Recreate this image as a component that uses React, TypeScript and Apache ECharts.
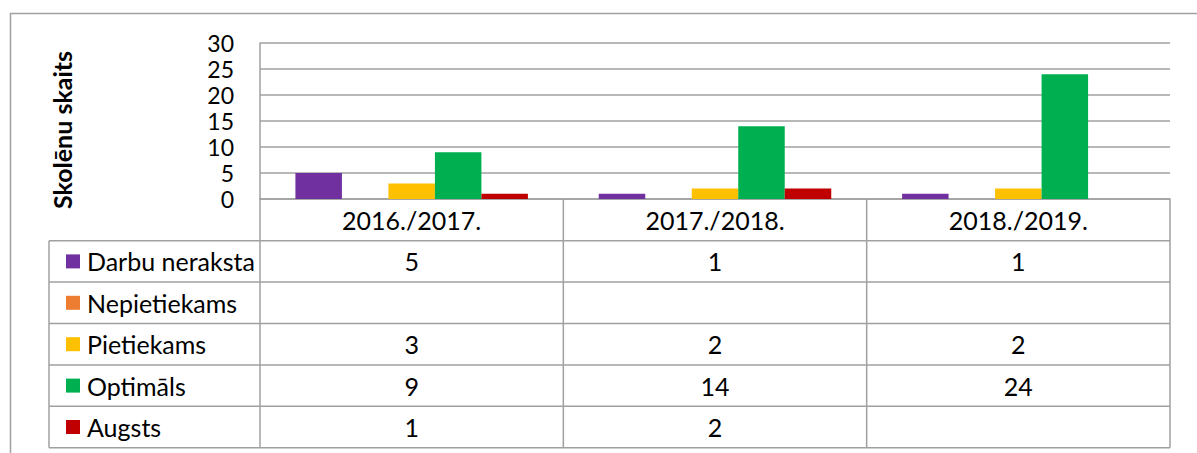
import React, { useEffect, useRef } from "react";
import * as echarts from "echarts";

const categories = ["2016./2017.", "2017./2018.", "2018./2019."];
const seriesNames = ["Darbu neraksta", "Nepietiekams", "Pietiekams", "Optimāls", "Augsts"];
const seriesColors = ["#7030A0", "#ED7D31", "#FFC000", "#00B050", "#C00000"];
const darbuNeraksta: (number | null)[] = [5, 1, 1];
const nepietiekams: (number | null)[] = [null, null, null];
const pietiekams: (number | null)[] = [3, 2, 2];
const optimals: (number | null)[] = [9, 14, 24];
const augsts: (number | null)[] = [1, 2, null];
const seriesValues = [darbuNeraksta, nepietiekams, pietiekams, optimals, augsts];
const yMin = 0;
const yMax = 30;
const yInterval = 5;
const yTitle = "Skolēnu skaits";

const FONT = "Lato, 'Open Sans', sans-serif";
const LINE = "#A0A0A0";

export default function App() {
  const ref = useRef<HTMLDivElement>(null);
  useEffect(() => {
    if (!ref.current) return;
    const chart = echarts.init(ref.current, undefined, { renderer: "svg" });

    const gLeft = 260;
    const gRight = 1170;
    const gTop = 43;
    const gBottom = 199;
    const colW = (gRight - gLeft) / categories.length;
    const headerBottom = 240.7;
    const rowH = 41.4;
    const legendLeft = 49;
    const tableBottom = headerBottom + rowH * seriesNames.length;

    const graphic: any[] = [];
    // outer chart border
    graphic.push({
      type: "rect",
      shape: { x: 10.5, y: 13.5, width: 1300, height: 600 },
      style: { fill: "none", stroke: LINE, lineWidth: 1.5 },
      silent: true,
    });
    // vertical column lines
    for (let j = 0; j <= categories.length; j++) {
      const x = gLeft + j * colW;
      graphic.push({
        type: "line",
        shape: { x1: x, y1: gBottom, x2: x, y2: tableBottom },
        style: { stroke: LINE, lineWidth: 1.5 },
      });
    }
    graphic.push({
      type: "line",
      shape: { x1: legendLeft, y1: headerBottom, x2: legendLeft, y2: tableBottom },
      style: { stroke: LINE, lineWidth: 1.5 },
    });
    // horizontal row lines
    for (let i = 0; i <= seriesNames.length; i++) {
      const y = headerBottom + i * rowH;
      graphic.push({
        type: "line",
        shape: { x1: legendLeft, y1: y, x2: gRight, y2: y },
        style: { stroke: LINE, lineWidth: 1.5 },
      });
    }
    // legend keys, names and values
    seriesNames.forEach((name, i) => {
      const cy = headerBottom + (i + 0.5) * rowH;
      graphic.push({
        type: "rect",
        shape: { x: 66, y: cy - 7, width: 14, height: 14 },
        style: { fill: seriesColors[i] },
      });
      graphic.push({
        type: "text",
        x: 87,
        y: cy,
        style: {
          text: name,
          fontSize: 25,
          fontFamily: FONT,
          fill: "#000",
          align: "left",
          verticalAlign: "middle",
        },
      });
      seriesValues[i].forEach((v, j) => {
        if (v === null) return;
        graphic.push({
          type: "text",
          x: gLeft + (j + 0.5) * colW,
          y: cy,
          style: {
            text: String(v),
            fontSize: 25,
            fontFamily: FONT,
            fill: "#000",
            align: "center",
            verticalAlign: "middle",
          },
        });
      });
    });
    // y-axis title
    graphic.push({
      type: "text",
      x: 61.5,
      y: 130,
      rotation: Math.PI / 2,
      style: {
        text: yTitle,
        fontSize: 25,
        fontWeight: "bold",
        fontFamily: FONT,
        fill: "#000",
        align: "center",
        verticalAlign: "middle",
      },
    });

    chart.setOption({
      animation: false,
      grid: { left: gLeft, right: 1197 - gRight, top: gTop, height: gBottom - gTop },
      xAxis: {
        type: "category",
        data: categories,
        axisLine: { show: true, lineStyle: { color: LINE, width: 1.5 } },
        axisTick: { show: false },
        axisLabel: {
          fontSize: 25,
          fontFamily: FONT,
          color: "#000",
          margin: 8,
          lineHeight: 25,
        },
      },
      yAxis: {
        type: "value",
        min: yMin,
        max: yMax,
        interval: yInterval,
        axisLine: { show: true, lineStyle: { color: LINE, width: 1.5 } },
        axisTick: { show: false },
        axisLabel: {
          fontSize: 23,
          lineHeight: 23,
          fontFamily: FONT,
          color: "#000",
          margin: 26,
        },
        splitLine: { lineStyle: { color: LINE, width: 1.5 } },
      },
      series: seriesNames.map((name, i) => ({
        type: "bar",
        name,
        data: seriesValues[i],
        barWidth: 46.5,
        barGap: "0%",
        itemStyle: { color: seriesColors[i] },
      })),
      graphic,
    });
    return () => chart.dispose();
  }, []);
  return (
    <div
      ref={ref}
      style={{ position: "absolute", left: 0, top: 0, width: 1197, height: 453 }}
    />
  );
}
